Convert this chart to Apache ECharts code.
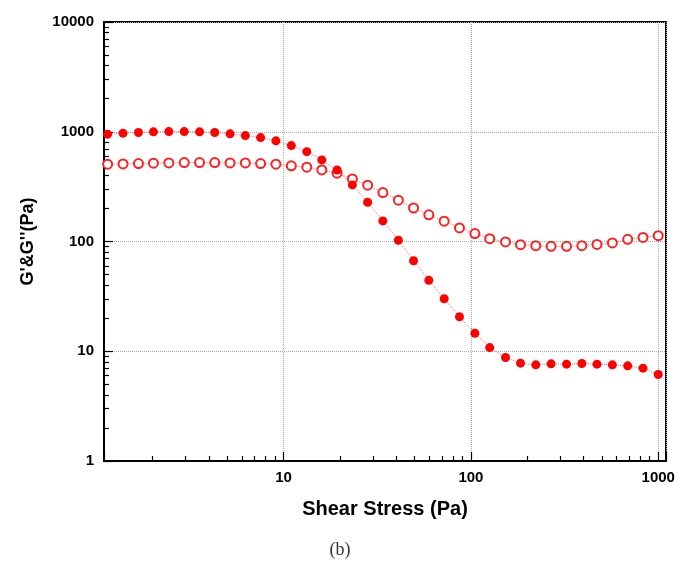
<!DOCTYPE html>
<html>
<head>
<meta charset="utf-8">
<script src="https://cdn.jsdelivr.net/npm/echarts@6/dist/echarts.min.js"></script>
<style>
  html, body { margin: 0; padding: 0; background: #fff; }
  #chart { width: 680px; height: 563px; }
</style>
</head>
<body>
<div id="chart"></div>
<script>
// shear stress (Pa), log spaced sweep
const shearStress = [1.15, 1.39, 1.68, 2.02, 2.44, 2.95, 3.56, 4.29, 5.18, 6.25, 7.54, 9.10,
  11.0, 13.3, 16.0, 19.3, 23.3, 28.1, 33.9, 41.0, 49.4, 59.6, 72.0, 86.9,
  105, 126, 153, 184, 222, 268, 324, 391, 471, 569, 687, 829, 1000];
// storage modulus G' (filled)
const gPrime = [951, 971, 984, 998, 1004, 1004, 998, 984, 957, 923, 885, 826,
  748, 659, 554, 448, 328, 228, 154, 102.6, 66.8, 44.3, 30.1, 20.6,
  14.6, 10.8, 8.78, 7.79, 7.52, 7.68, 7.63, 7.73, 7.63, 7.52, 7.36, 7.01, 6.14];
// loss modulus G'' (open)
const gDoublePrime = [506, 509, 513, 517, 520, 524, 524, 524, 520, 520, 513, 506,
  489, 475, 449, 419, 372, 326, 279, 238, 202, 175, 153, 133,
  118, 106, 99, 93.5, 91.6, 90.4, 90.4, 91.6, 94, 97, 104.7, 109, 113];
const yTicks = [1, 10, 100, 1000, 10000];
const xTicks = [10, 100, 1000];

const pairs = (ys) => shearStress.map((x, i) => [x, ys[i]]);

const axisFont = {fontFamily: 'Liberation Sans', fontWeight: 'bold', fontSize: 15, color: '#000'};

const myChart = echarts.init(document.getElementById('chart'), null, {renderer: 'canvas'});
const option = {
  backgroundColor: '#fff',
  animation: false,
  title: {
    text: '(b)',
    left: 'center',
    top: 536,
    textStyle: {fontFamily: 'Liberation Serif', fontWeight: 'normal', fontSize: 18, color: '#333'}
  },
  grid: {
    left: 104, top: 22, right: 14, bottom: 102,
    show: true, borderColor: '#000', borderWidth: 2
  },
  xAxis: {
    type: 'log',
    logBase: 10,
    min: 1.1,
    max: 1100,
    name: 'Shear Stress (Pa)',
    nameLocation: 'middle',
    nameGap: 38,
    nameTextStyle: {fontFamily: 'Liberation Sans', fontWeight: 'bold', fontSize: 20, color: '#000'},
    axisLine: {lineStyle: {color: '#000', width: 2}},
    axisTick: {inside: true, length: 9, lineStyle: {color: '#000', width: 1.2}},
    minorTick: {show: true, splitNumber: 9, length: 5, lineStyle: {color: '#000', width: 1.2}},
    axisLabel: Object.assign({
      margin: 9,
      formatter: (v) => xTicks.indexOf(Math.round(v)) >= 0 && Math.abs(v - Math.round(v)) < 1e-6 ? String(Math.round(v)) : ''
    }, axisFont),
    splitLine: {show: true, lineStyle: {color: '#aaa', type: 'dotted', width: 1}}
  },
  yAxis: {
    type: 'log',
    logBase: 10,
    min: 1,
    max: 10000,
    name: "G'&G''(Pa)",
    nameLocation: 'middle',
    nameGap: 67,
    nameRotate: 90,
    nameTextStyle: {fontFamily: 'Liberation Sans', fontWeight: 'bold', fontSize: 18, color: '#000', padding: [0, 0, 0, 0]},
    axisLine: {lineStyle: {color: '#000', width: 2}},
    axisTick: {inside: true, length: 9, lineStyle: {color: '#000', width: 1.2}},
    minorTick: {show: true, splitNumber: 9, length: 5, lineStyle: {color: '#000', width: 1.2}},
    axisLabel: Object.assign({
      margin: 10,
      formatter: (v) => yTicks.indexOf(Math.round(v)) >= 0 ? String(Math.round(v)) : ''
    }, axisFont),
    splitLine: {show: true, lineStyle: {color: '#aaa', type: 'dotted', width: 1}}
  },
  series: [
    {
      name: "G'",
      type: 'line',
      data: pairs(gPrime),
      symbol: 'circle',
      symbolSize: 9,
      itemStyle: {color: '#ff0000'},
      lineStyle: {color: '#ff7070', width: 1, type: 'dotted'},
      z: 3
    },
    {
      name: "G''",
      type: 'line',
      data: pairs(gDoublePrime),
      symbol: 'emptyCircle',
      symbolSize: 9,
      itemStyle: {color: '#ff2020', borderColor: '#ff2020', borderWidth: 1.2},
      lineStyle: {color: '#ff7070', width: 1, type: 'dotted'},
      z: 2
    }
  ]
};

myChart.setOption(option);
</script>
</body>
</html>
